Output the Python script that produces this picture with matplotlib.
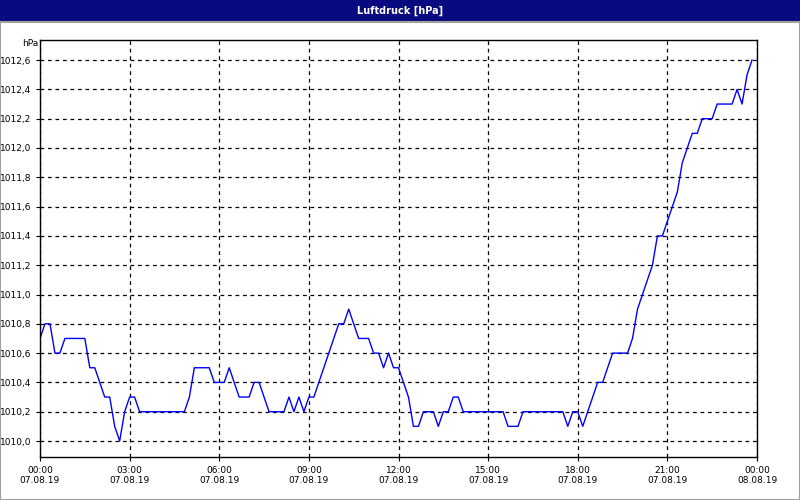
import matplotlib
matplotlib.use("Agg")
import matplotlib.pyplot as plt
from matplotlib.patches import Rectangle

minutes = [0,10,20,30,40,50,90,100,110,130,140,150,160,170,180,190,200,290,300,310,340,350,370,380,400,420,430,440,460,490,500,510,520,530,540,550,
           600,610,620,630,640,660,670,680,690,700,710,720,730,740,750,760,770,790,800,810,820,830,840,850,930,940,960,970,1050,1060,1070,1080,1090,1100,
           1120,1130,1150,1180,1190,1200,1210,1230,1240,1250,1260,1280,1290,1300,1310,1320,1330,1350,1360,1390,1400,1410,1420,1430]
pressure = [1010.7,1010.8,1010.8,1010.6,1010.6,1010.7,1010.7,1010.5,1010.5,1010.3,1010.3,1010.1,1010.0,1010.2,1010.3,1010.3,1010.2,1010.2,1010.3,1010.5,1010.5,1010.4,1010.4,1010.5,1010.3,1010.3,1010.4,1010.4,1010.2,1010.2,1010.3,1010.2,1010.3,1010.2,1010.3,1010.3,
            1010.8,1010.8,1010.9,1010.8,1010.7,1010.7,1010.6,1010.6,1010.5,1010.6,1010.5,1010.5,1010.4,1010.3,1010.1,1010.1,1010.2,1010.2,1010.1,1010.2,1010.2,1010.3,1010.3,1010.2,1010.2,1010.1,1010.1,1010.2,1010.2,1010.1,1010.2,1010.2,1010.1,1010.2,
            1010.4,1010.4,1010.6,1010.6,1010.7,1010.9,1011.0,1011.2,1011.4,1011.4,1011.5,1011.7,1011.9,1012.0,1012.1,1012.1,1012.2,1012.2,1012.3,1012.3,1012.4,1012.3,1012.5,1012.6]
xtick_pos = [0,180,360,540,720,900,1080,1260,1440]
xtick_labels = ["00:00\n07.08.19","03:00\n07.08.19","06:00\n07.08.19","09:00\n07.08.19","12:00\n07.08.19",
                "15:00\n07.08.19","18:00\n07.08.19","21:00\n07.08.19","00:00\n08.08.19"]
ytick_vals = [1010.0,1010.2,1010.4,1010.6,1010.8,1011.0,1011.2,1011.4,1011.6,1011.8,1012.0,1012.2,1012.4,1012.6]

fig = plt.figure(figsize=(8,5), dpi=100)
fig.patch.set_facecolor("white")
# title bar
fig.patches.append(Rectangle((0,1-22/500),1,22/500,transform=fig.transFigure,facecolor="#0a0a80",edgecolor="none"))
fig.text(0.5,1-11/500,"Luftdruck [hPa]",color="white",fontsize=7,fontweight="bold",ha="center",va="center")
fig.patches.append(Rectangle((0,0),1,1-22/500,transform=fig.transFigure,facecolor="none",edgecolor="#a0a0a0",lw=1.5))

ax = fig.add_axes([40/800, 43/500, 717/800, 417/500])
ax.plot(minutes, pressure, color="#0000ff", lw=1)
ax.set_xlim(0,1440)
ax.set_ylim(1010.0-16/146.5, 1010.0+401/146.5)
ax.set_xticks(xtick_pos)
ax.set_xticklabels(xtick_labels)
ax.set_yticks(ytick_vals)
ax.set_yticklabels([f"{v:.1f}".replace(".",",") for v in ytick_vals])
ax.tick_params(labelsize=6.5, length=3, color="black")
ax.grid(True, color="black", linestyle=(0,(3,3)), lw=0.9)
for s in ax.spines.values():
    s.set_color("black"); s.set_linewidth(1)
fig.text(22/800, 1-44/500, "hPa", fontsize=6.5, ha="left", va="center")
fig.savefig("out.png", dpi=100)
